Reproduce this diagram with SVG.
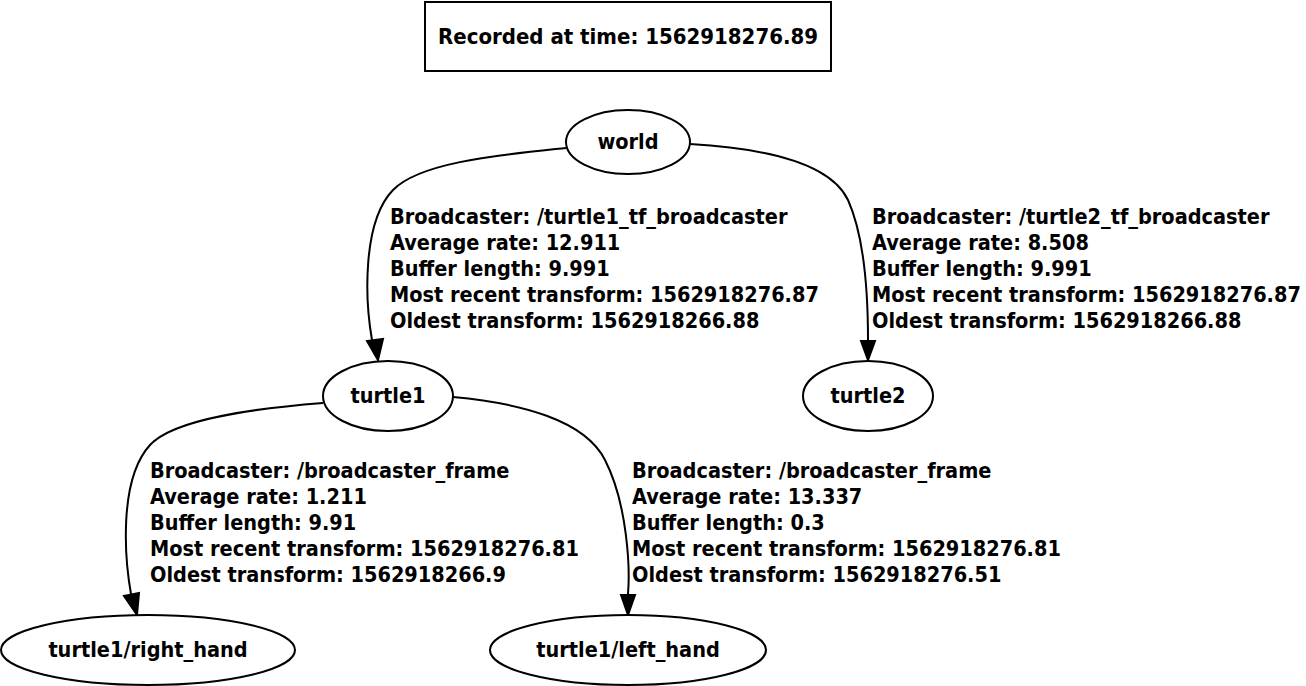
<svg xmlns="http://www.w3.org/2000/svg" width="1306" height="686" viewBox="0 0 1306 686">
<defs>
<style>
text{font-family:"DejaVu Sans Condensed","DejaVu Sans",sans-serif;font-weight:bold;font-size:21.5px;fill:#000}
.n text{text-anchor:middle}
#header text{font-size:22px}
.n ellipse,.n rect{fill:#fff;stroke:#000;stroke-width:2}
.e path.l{fill:none;stroke:#000;stroke-width:2}
.e path.h{fill:#000;stroke:#000;stroke-width:2}
</style>
</defs>
<rect width="1306" height="686" fill="#fff"/>
<g id="header" class="n">
<rect x="425" y="2" width="406" height="69"/>
<text x="628" y="44">Recorded at time: 1562918276.89</text>
</g>
<g id="connectors" class="e">
<path class="l" d="M566,148 C500,155 420,162 393,190 C362,222 365,300 372,340"/>
<path class="h" d="M367,341 L378,360 L383,339 Z"/>
<path class="l" d="M690,144 C760,148 830,162 848,200 C865,238 868,300 868,340"/>
<path class="h" d="M861,341 L868,360 L875,341 Z"/>
<path class="l" d="M323,403 C260,408 175,418 150,445 C118,480 125,560 131,594"/>
<path class="h" d="M124,596 L137,615 L139,593 Z"/>
<path class="l" d="M453,397 C520,403 585,420 605,460 C628,505 630,570 628,594"/>
<path class="h" d="M621,595 L628,615 L635,595 Z"/>
</g>
<g id="labels">
<text x="390" y="224">Broadcaster: /turtle1_tf_broadcaster</text>
<text x="390" y="250">Average rate: 12.911</text>
<text x="390" y="276">Buffer length: 9.991</text>
<text x="390" y="302">Most recent transform: 1562918276.87</text>
<text x="390" y="328">Oldest transform: 1562918266.88</text>
<text x="872" y="224">Broadcaster: /turtle2_tf_broadcaster</text>
<text x="872" y="250">Average rate: 8.508</text>
<text x="872" y="276">Buffer length: 9.991</text>
<text x="872" y="302">Most recent transform: 1562918276.87</text>
<text x="872" y="328">Oldest transform: 1562918266.88</text>
<text x="150" y="478">Broadcaster: /broadcaster_frame</text>
<text x="150" y="504">Average rate: 1.211</text>
<text x="150" y="530">Buffer length: 9.91</text>
<text x="150" y="556">Most recent transform: 1562918276.81</text>
<text x="150" y="582">Oldest transform: 1562918266.9</text>
<text x="632" y="478">Broadcaster: /broadcaster_frame</text>
<text x="632" y="504">Average rate: 13.337</text>
<text x="632" y="530">Buffer length: 0.3</text>
<text x="632" y="556">Most recent transform: 1562918276.81</text>
<text x="632" y="582">Oldest transform: 1562918276.51</text>
</g>
<g id="world" class="n">
<ellipse cx="628" cy="142" rx="62" ry="32"/>
<text x="628" y="149">world</text>
</g>
<g id="turtle1" class="n">
<ellipse cx="388" cy="396" rx="65" ry="35"/>
<text x="388" y="403">turtle1</text>
</g>
<g id="turtle2" class="n">
<ellipse cx="868" cy="396" rx="65" ry="35"/>
<text x="868" y="403">turtle2</text>
</g>
<g id="right_hand" class="n">
<ellipse cx="148" cy="650" rx="147" ry="35"/>
<text x="148" y="657">turtle1/right_hand</text>
</g>
<g id="left_hand" class="n">
<ellipse cx="628" cy="650" rx="138" ry="35"/>
<text x="628" y="657">turtle1/left_hand</text>
</g>
</svg>
